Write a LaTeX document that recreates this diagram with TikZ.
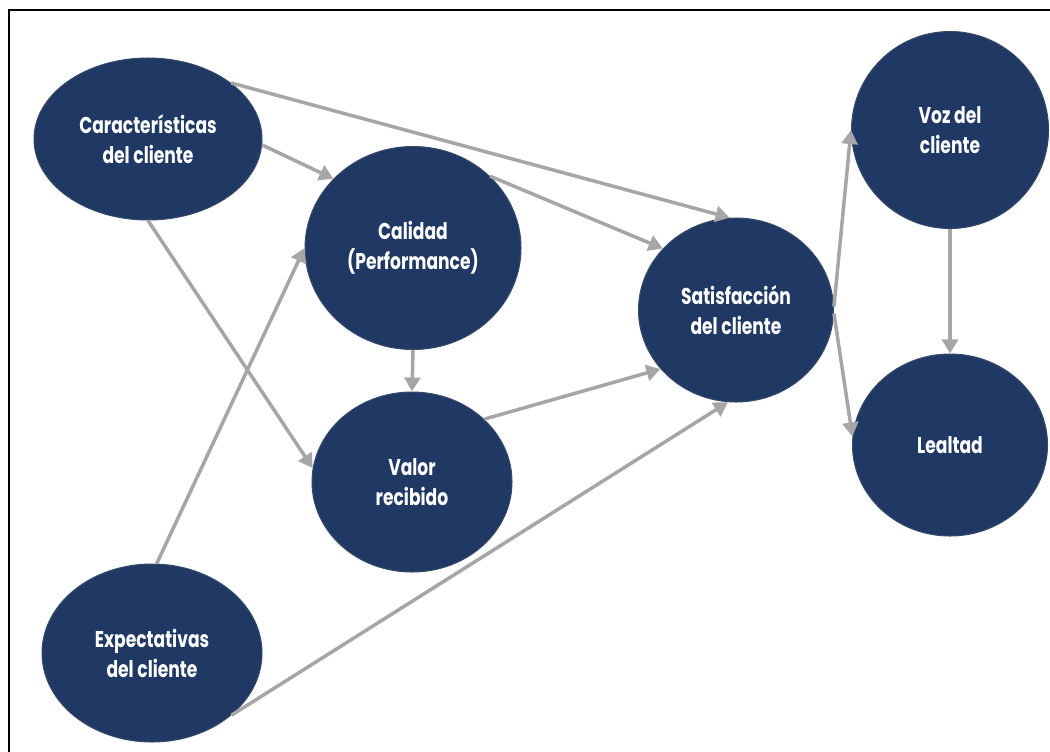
\documentclass[tikz,border=0pt]{standalone}
\usepackage{fontspec}
\setmainfont{Poppins}[FakeStretch=0.75]
\usetikzlibrary{shapes.geometric}
\usetikzlibrary{arrows.meta}
\definecolor{navy}{RGB}{31,56,100}
\definecolor{arrowgray}{RGB}{166,166,166}

\begin{document}
\begin{tikzpicture}[
            x = 0.02cm, y = -0.02cm, % one unit per pixel
            > = {Triangle[width=9pt,length=8pt]}, % arrow head style
            line width = 2pt
        ]

        \tikzstyle{factor}=[
            ellipse,
            fill = navy,
            draw = navy!75!gray,
            line width = 0.6pt,
            text = white,
            align = center,
            inner sep = 0pt,
            font = \fontsize{13}{17}\selectfont\bfseries
        ]
        \tikzstyle{link}=[arrowgray, ->]

        \useasboundingbox (0,0) rectangle (1050,751);
        \clip (0,0) rectangle (1050,751);
        \draw[black, line width=1.1pt] (9,760) -- (9,10) -- (1060,10);

	% antecedents
        \node[factor, minimum width=4.56cm, minimum height=3.24cm] (Car) at (148,139) {Características\\del cliente};
        \node[factor, minimum width=4.4cm, minimum height=3.56cm] (Exp) at (152,653) {Expectativas\\del cliente};

        % perception
        \node[factor, minimum width=4.32cm, minimum height=4.06cm] (Cal) at (413,248) {Calidad\\(Performance)};
        \node[factor, minimum width=4.0cm, minimum height=3.6cm] (Val) at (412,482) {Valor\\recibido};

        % outcomes
        \node[factor, minimum width=3.9cm, minimum height=3.68cm] (Sat) at (736,310) {Satisfacción\\del cliente};
        \node[factor, minimum width=3.94cm, minimum height=3.94cm] (Voz) at (950,130) {Voz del\\cliente};
        \node[factor, minimum width=3.9cm, minimum height=3.64cm] (Lea) at (950,445) {Lealtad};

        \path[link] (Car.34) edge node {} (Sat.94);
        \path[link] (Car.-3) edge node {} (Cal.139);
        \path[link] (Car.-90) edge node {} (Val.172);
        \path[link] (Cal.43) edge node {} (Sat.140);
        \path[link] (Cal.-90) edge node {} (Val.90);
        \path[link] (Val.41) edge node {} (Sat.218);
        \path[link] (Exp.87) edge node {} (Cal.180);
        \path[link] (Exp.-38) edge node {} (Sat.265);
        \path[link] (Sat.2) edge node {} (Voz.180);
        \path[link] (Sat.-2) edge node {} (Lea.175);
        \path[link] (Voz.-90) edge node {} (Lea.90);

\end{tikzpicture}
\end{document}
